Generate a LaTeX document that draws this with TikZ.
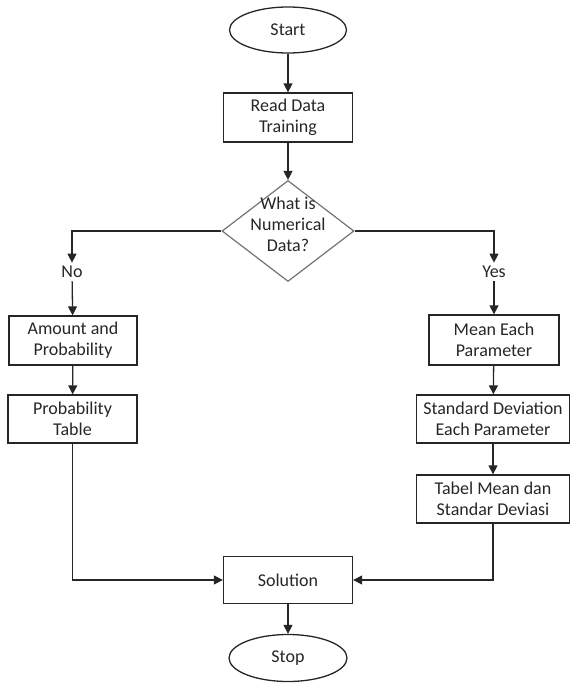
\documentclass[tikz,border=0pt]{standalone}
\usepackage{fontspec}
\setmainfont{Carlito}
\usetikzlibrary{shapes.geometric,arrows.meta}
\tikzset{
    every node/.style={font=\fontsize{18}{21}\selectfont, text=black!85, align=center}
}
\tikzset{
    proc/.style={rectangle, draw=black!85, line width=1.3pt, inner sep=0mm},
    term/.style={ellipse, draw=black!85, line width=1.3pt, inner sep=0mm},
    decide/.style={diamond, draw=black!55, line width=1.2pt, inner sep=0mm,
        minimum width=132pt, minimum height=101pt},
    flow/.style={draw=black!85, line width=1.3pt, -{Triangle[length=9pt,width=9pt]}}
}
% text that may stick out of the diamond
\newcommand{\qbox}[1]{\makebox[0pt]{\smash{\begin{tabular}{@{}c@{}}#1\end{tabular}}}}

\begin{document}
\begin{tikzpicture}[x=1pt, y=-1pt]
  \useasboundingbox (0,0) rectangle (572,683);

  \node (start) [term, minimum width=117pt, minimum height=46pt] at (288,30) {Start};
  \node (read) [proc, minimum width=129pt, minimum height=49pt] at (288,117.5) {Read Data\\Training};
  \node (numeric) [decide] at (288,231) {\qbox{What is\\Numerical\\Data?}};

  \node (no) at (72,272) {No};
  \node (yes) at (494,272) {Yes};

  \node (amount) [proc, minimum width=128pt, minimum height=49pt] at (73,340.5) {Amount and\\Probability};
  \node (probtab) [proc, minimum width=129pt, minimum height=48pt] at (72.5,419) {Probability\\Table};

  \node (mean) [proc, minimum width=130pt, minimum height=50pt] at (494,340) {Mean Each\\Parameter};
  \node (stdev) [proc, minimum width=153pt, minimum height=48pt] at (493,419) {Standard Deviation\\Each Parameter};
  \node (tabel) [proc, minimum width=153pt, minimum height=48pt] at (493,499) {Tabel Mean dan\\Standar Deviasi};

  \node (solution) [proc, minimum width=129pt, minimum height=47pt] at (288,580) {Solution};
  \node (stop) [term, minimum width=118pt, minimum height=47pt] at (288,658) {Stop};

  \draw [flow] (start) -- (read);
  \draw [flow] (read) -- (numeric);
  \draw [flow] (numeric.west) -| (no.north);
  \draw [flow] (numeric.east) -| (yes.north);
  \draw [flow] (no) -- (amount);
  \draw [flow] (amount) -- (probtab);
  \draw [flow] (yes) -- (mean);
  \draw [flow] (mean) -- (stdev);
  \draw [flow] (stdev) -- (tabel);
  \draw [flow] (probtab.south) |- (solution.west);
  \draw [flow] (tabel.south) |- (solution.east);
  \draw [flow] (solution) -- (stop);
\end{tikzpicture}
\end{document}
